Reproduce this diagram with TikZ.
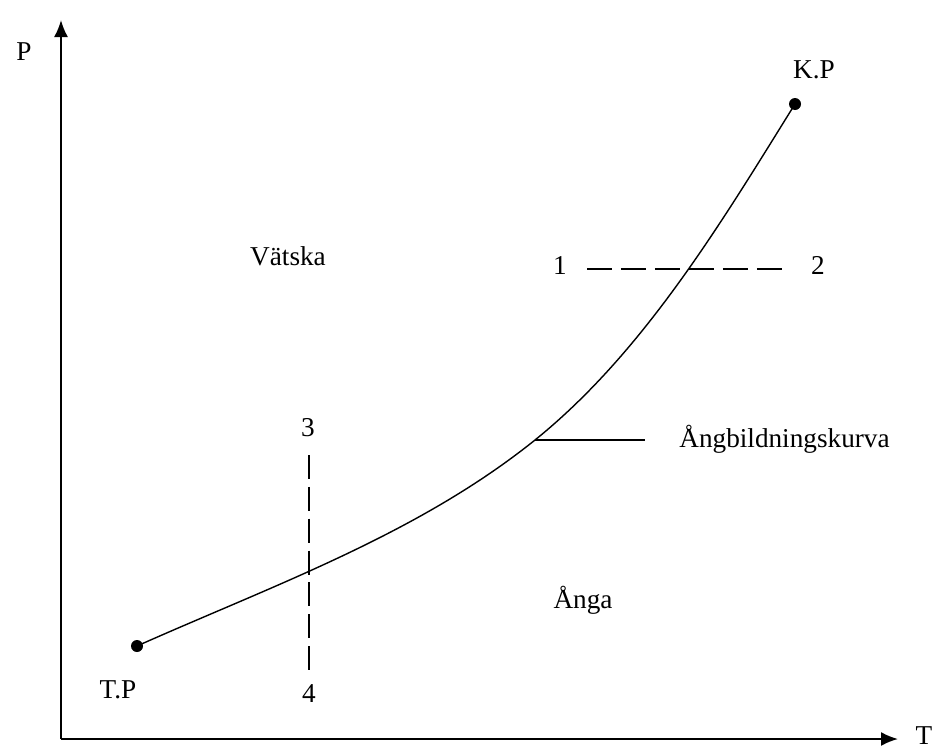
\documentclass[tikz,border=0pt]{standalone}
\usepackage{fontspec}
\setmainfont{Liberation Serif}
\usepackage{tikz}
\usetikzlibrary{positioning,arrows.meta,calc}

\begin{document}
\begin{tikzpicture}[
  x=0.02cm, y=-0.02cm,
  every node/.style={font=\fontsize{15.5}{18}\selectfont, inner sep=0pt},
  axis/.style ={line width=1.1pt, -{Latex[length=3.4mm,width=2.8mm]}},
  curve/.style={line width=0.8pt},
  dshh/.style ={line width=1.1pt, dash pattern=on 0.5cm off 0.18cm},
  dshv/.style ={line width=1.1pt, dash pattern=on 0.48cm off 0.157cm},
  lead/.style ={line width=0.9pt},
  dot/.style  ={circle, fill=black, minimum size=0.24cm},
  lbl/.style  ={anchor=base}
]
\useasboundingbox (0,0) rectangle (940,751);

%% ---- Axes -------------------------------------------------------
\coordinate (o)    at (61,739);
\coordinate (ytip) at (61,20);
\coordinate (xtip) at (898,739);
\draw[axis] (o) -- (ytip);
\draw[axis] (o) -- (xtip);
\node[lbl] (plbl) at (24,60)  {P};
\node[lbl] (tlbl) at (924,744) {T};

%% ---- Triple point / critical point -------------------------------
\node[dot] (tp) at (137,646) {};
\node[dot] (kp) at (795,104) {};
\node[lbl] (tplbl) at (118,698) {T.P};
\node[lbl] (kplbl) at (814,78)  {K.P};

%% ---- Vaporisation curve ------------------------------------------
\coordinate (mid) at (535,440);
\draw[curve] (tp.center) .. controls (274,585) and (418,534) .. (mid)
             .. controls (644,352) and (721,223) .. (kp.center);

%% ---- Leader and curve name ---------------------------------------
\coordinate (leadend) at (645,440);
\draw[lead] (mid) -- (leadend);
\node[anchor=base west] (kurva) at (679,447) {Ångbildningskurva};

%% ---- Phase regions -----------------------------------------------
\node[lbl] (vatska) at (288,265) {Vätska};
\node[lbl] (anga)   at (583,608) {Ånga};

%% ---- Isobar 1--2 -------------------------------------------------
\node[lbl] (n1) at (560,274) {1};
\node[lbl] (n2) at (818,274) {2};
\coordinate (d12a) at (587,269);
\coordinate (d12b) at (782,269);
\draw[dshh] (d12a) -- (d12b);

%% ---- Isotherm 3--4 -----------------------------------------------
\node[lbl] (n3) at (308,436) {3};
\node[lbl] (n4) at (309,702) {4};
\coordinate (d34a) at (309,455);
\coordinate (d34b) at (309,670);
\draw[dshv] (d34a) -- (d34b);

\end{tikzpicture}
\end{document}
